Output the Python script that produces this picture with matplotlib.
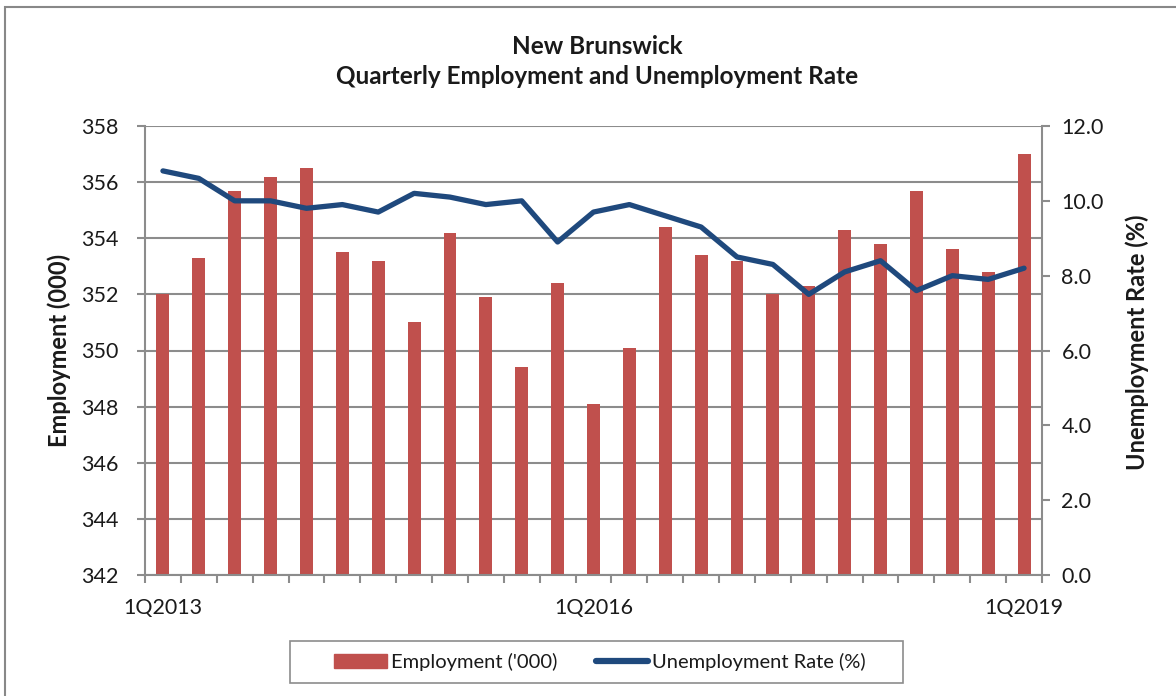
import matplotlib
matplotlib.use("Agg")
import matplotlib.pyplot as plt
from matplotlib.patches import Rectangle
from matplotlib.lines import Line2D
from matplotlib.transforms import ScaledTranslation
import numpy as np

quarters = [f"{q}Q{y}" for y in range(2013, 2020) for q in range(1, 5)][:25]
employment = [352.0, 353.3, 355.7, 356.2, 356.5, 353.5, 353.2, 351.0, 354.2, 351.9,
              349.4, 352.4, 348.1, 350.1, 354.4, 353.4, 353.2, 352.0, 352.3, 354.3,
              353.8, 355.7, 353.6, 352.8, 357.0]
unemployment = [10.8, 10.6, 10.0, 10.0, 9.8, 9.9, 9.7, 10.2, 10.1, 9.9,
                10.0, 8.9, 9.7, 9.9, 9.6, 9.3, 8.5, 8.3, 7.5, 8.1,
                8.4, 7.6, 8.0, 7.9, 8.2]
label_every = 12

plt.rcParams['font.family'] = ['Lato', 'DejaVu Sans']
bar_color = '#C0504D'
line_color = '#1F497D'
grid_color = '#8C8C8C'
text_color = '#1A1A1A'

W, H = 1176, 696
fig = plt.figure(figsize=(W / 100, H / 100), dpi=100)
fig.patch.set_facecolor('white')
# outer chart border
fig.add_artist(Rectangle((5 / W, -0.01), 1.0, 1 - 7 / H + 0.01, transform=fig.transFigure,
                         fill=False, edgecolor='#888888', linewidth=1.5))

ax = fig.add_axes([145 / W, 1 - 575 / H, (1042 - 145) / W, (575 - 126) / H])
x = np.arange(len(quarters))
ax.bar(x, employment, width=0.36, color=bar_color, zorder=2)
ax.set_xlim(-0.5, len(quarters) - 0.5)
ax.set_ylim(342, 358)
ax.set_yticks(np.arange(342, 359, 2))
ax.yaxis.grid(True, color=grid_color, linewidth=1.5, zorder=0)
ax.set_axisbelow(True)
for s in ['top', 'right']:
    ax.spines[s].set_visible(False)
for s in ['left', 'bottom']:
    ax.spines[s].set_color(grid_color)
    ax.spines[s].set_linewidth(1.5)
ax.tick_params(axis='y', colors=grid_color, labelcolor=text_color, labelsize=15.5,
               length=6, width=1.5, direction='out', pad=13)
# x ticks at category boundaries, labels at category centres
ax.set_xticks(np.arange(-0.5, len(quarters) + 0.5, 1))
ax.set_xticklabels([])
ax.tick_params(axis='x', colors=grid_color, length=6, width=1.5, direction='out')
lab_tr = ax.get_xaxis_transform() + ScaledTranslation(0, -33 / 100, fig.dpi_scale_trans)
for i in range(0, len(quarters), label_every):
    ax.text(i, 0, quarters[i], transform=lab_tr, ha='center', va='center',
            fontsize=15.5, color=text_color)

ax2 = ax.twinx()
ax2.plot(x, unemployment, color=line_color, linewidth=3.8, solid_joinstyle='round',
         solid_capstyle='round', zorder=3)
ax2.set_ylim(0, 12)
ax2.set_yticks(np.arange(0, 12.1, 2))
ax2.set_yticklabels([f"{v:.1f}" for v in np.arange(0, 12.1, 2)])
for s in ['top', 'left', 'bottom']:
    ax2.spines[s].set_visible(False)
ax2.spines['right'].set_color(grid_color)
ax2.spines['right'].set_linewidth(1.5)
ax2.tick_params(axis='y', colors=grid_color, labelcolor=text_color, labelsize=15.5,
                length=6, width=1.5, direction='out', pad=8)

fig.text(59 / W, 1 - 350 / H, "Employment (000)", rotation=90, ha='center', va='center',
         fontsize=17, fontweight='bold', color=text_color)
fig.text(1137 / W, 1 - 342 / H, "Unemployment Rate (%)", rotation=90, ha='center', va='center',
         fontsize=17, fontweight='bold', color=text_color)

fig.text(597 / W, 1 - 46 / H, "New Brunswick", ha='center', va='center',
         fontsize=17.5, fontweight='bold', color=text_color)
fig.text(597 / W, 1 - 76 / H, "Quarterly Employment and Unemployment Rate", ha='center', va='center',
         fontsize=17.5, fontweight='bold', color=text_color)

# legend frame
fig.add_artist(Rectangle((290 / W, 1 - 683 / H), (903 - 290) / W, (683 - 641) / H,
                         transform=fig.transFigure, fill=False, edgecolor='#8C8C8C', linewidth=1.2))
handles = [Rectangle((0, 0), 1, 1, color=bar_color),
           Line2D([0], [0], color=line_color, linewidth=4.5, solid_capstyle='round')]
leg = fig.legend(handles, ["Employment ('000)", "Unemployment Rate (%)"],
                 loc='center', bbox_to_anchor=(600 / W, 1 - 662 / H), ncol=2,
                 fontsize=14.5, frameon=False,
                 handlelength=2.6, handleheight=0.65, columnspacing=1.9, handletextpad=0.2,
                 borderpad=0.3, borderaxespad=0)
for t in leg.get_texts():
    t.set_color(text_color)

fig.savefig("out.png", dpi=100)
